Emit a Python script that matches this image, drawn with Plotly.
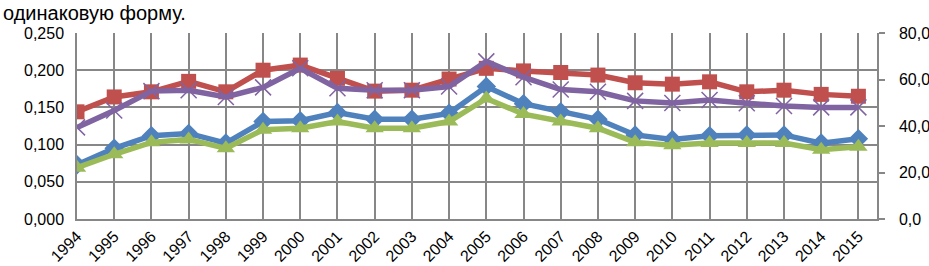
import plotly.graph_objects as go

years = [str(y) for y in range(1994, 2016)]

# left axis series
blue_vals = [0.073, 0.095, 0.112, 0.115, 0.102, 0.131, 0.132, 0.143, 0.134, 0.134, 0.142,
             0.178, 0.155, 0.144, 0.134, 0.113, 0.107, 0.112, 0.113, 0.113, 0.102, 0.108]
green_vals = [0.069, 0.087, 0.103, 0.107, 0.095, 0.120, 0.122, 0.131, 0.122, 0.122, 0.131,
              0.162, 0.141, 0.131, 0.122, 0.103, 0.099, 0.102, 0.102, 0.102, 0.093, 0.097]
# right axis series
red_vals = [46.1, 52.5, 54.7, 59.2, 54.7, 64.0, 66.2, 60.5, 55.0, 55.4, 60.2,
            64.8, 63.7, 63.0, 61.9, 58.6, 58.0, 59.0, 54.7, 55.4, 53.6, 52.8]
purple_vals = [39.4, 46.7, 55.0, 55.4, 52.5, 56.6, 64.8, 56.2, 55.4, 55.4, 57.0,
               67.8, 61.0, 55.7, 54.7, 50.8, 49.9, 51.2, 49.8, 48.6, 48.0, 48.0]

left_ticks = [0, 0.05, 0.10, 0.15, 0.20, 0.25]
right_ticks = [0, 20, 40, 60, 80]

idx = list(range(len(years)))

fig = go.Figure()
fig.add_trace(go.Scatter(x=idx, y=blue_vals, mode="lines+markers",
                         line=dict(color="#4F81BD", width=5.5),
                         marker=dict(symbol="diamond", size=15, color="#4F81BD")))
fig.add_trace(go.Scatter(x=idx, y=green_vals, mode="lines+markers",
                         line=dict(color="#9BBB59", width=5.5),
                         marker=dict(symbol="triangle-up", size=16, color="#9BBB59")))
fig.add_trace(go.Scatter(x=idx, y=red_vals, mode="lines+markers", yaxis="y2",
                         line=dict(color="#C0504D", width=5.5),
                         marker=dict(symbol="square", size=15, color="#C0504D")))
fig.add_trace(go.Scatter(x=idx, y=purple_vals, mode="lines+markers", yaxis="y2",
                         line=dict(color="#8064A2", width=5.5),
                         marker=dict(symbol="x-thin", size=16,
                                     line=dict(color="#8064A2", width=1.5))))

grid = "#878787"
fig.update_layout(
    width=929, height=266,
    margin=dict(l=77, r=52, t=33, b=47, autoexpand=False),
    paper_bgcolor="white", plot_bgcolor="white",
    showlegend=False,
    separators=", ",
    font=dict(family="Liberation Sans, Arial, sans-serif", color="black"),
    xaxis=dict(range=[0, 21.5], tickvals=idx, ticktext=years, tickangle=-45,
               showgrid=True, gridcolor=grid, gridwidth=1.5,
               showline=True, linecolor=grid, linewidth=1.5, automargin=False,
               ticks="", tickfont=dict(size=16), zeroline=False),
    yaxis=dict(range=[0, 0.25], tickvals=left_ticks, tickformat=".3f",
               showgrid=True, gridcolor=grid, gridwidth=1.5, automargin=False,
               showline=True, linecolor=grid, linewidth=1.5, ticklabelstandoff=8,
               ticks="", tickfont=dict(size=16), zeroline=False),
    yaxis2=dict(range=[0, 80], tickvals=right_ticks, tickformat=".1f",
                overlaying="y", side="right", showgrid=False, automargin=False,
                showline=True, linecolor=grid, linewidth=1.5, ticklabelstandoff=11,
                ticks="outside", ticklen=6, tickcolor=grid, tickwidth=1.5,
                tickfont=dict(size=16), zeroline=False),
    annotations=[dict(text="одинаковую форму.", xref="paper", yref="paper",
                      x=-76 / 800, y=1 + 20.5 / 186, xanchor="left", yanchor="middle",
                      showarrow=False, font=dict(size=20, color="black"))],
)

fig.write_html("out.html", config={"displayModeBar": False},
               post_script="document.body.style.margin='0';")
